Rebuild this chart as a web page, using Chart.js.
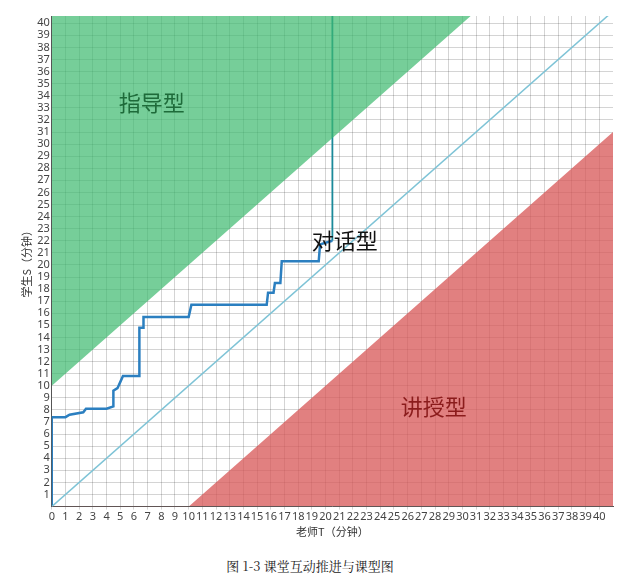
<!DOCTYPE html>
<html>
<head>
<meta charset="utf-8">
<script src="https://cdn.jsdelivr.net/npm/chart.js@4"></script>
<style>
  body { margin: 0; background: #fff; }
  #wrap { width: 620px; height: 538px; }
  #cap { text-align: center; font-family: "Noto Serif CJK SC", "Noto Sans CJK SC", serif; font-size: 13px; margin-top: 18px; color: #222; }
</style>
</head>
<body>
<div id="wrap"><canvas id="c"></canvas></div>
<div id="cap">图 1-3 课堂互动推进与课型图</div>
<script>
// Teacher time (T) vs student time (S), minutes
const pathT = [0, 0, 1, 1.3, 2.3, 2.5, 4, 4.5, 4.5, 4.8, 5, 5.2, 6.4, 6.4, 6.7, 6.7, 10, 10.2, 15.7, 15.8, 16.2, 16.3, 16.7, 16.8, 19.5, 19.6, 20.5];
const pathS = [0, 7.4, 7.4, 7.6, 7.8, 8.1, 8.1, 8.3, 9.6, 9.8, 10.3, 10.8, 10.8, 14.8, 14.8, 15.7, 15.7, 16.7, 16.7, 17.7, 17.7, 18.5, 18.5, 20.3, 20.3, 21.7, 22];
const tailT = [20.5, 20.5];
const tailS = [22, 41];
const diagonal = [[0, 0], [41, 41]];
const guideUpper = [[0, 10], [41, 51]];
const guideLower = [[0, -10], [41, 31]];
const xTicks = Array.from({ length: 41 }, (_, i) => i);
const yTicks = Array.from({ length: 40 }, (_, i) => i + 1);
const zoneLabels = [
  { text: '指导型', x: 4.9, y: 33.4, color: '#1e6b3a' },
  { text: '对话型', x: 19, y: 22, color: '#111' },
  { text: '讲授型', x: 25.5, y: 8.3, color: '#8b1c1c' }
];

const pts = (xs, ys) => xs.map((x, i) => ({ x, y: ys[i] }));
const pairs = a => a.map(p => ({ x: p[0], y: p[1] }));

const zoneText = {
  id: 'zoneText',
  afterDatasetsDraw(chart) {
    const { ctx, scales } = chart;
    ctx.save();
    ctx.font = '22px "Noto Sans CJK SC"';
    ctx.textAlign = 'left';
    ctx.textBaseline = 'middle';
    zoneLabels.forEach(l => {
      ctx.fillStyle = l.color;
      ctx.fillText(l.text, scales.x.getPixelForValue(l.x), scales.y.getPixelForValue(l.y));
    });
    ctx.restore();
  }
};

new Chart(document.getElementById('c'), {
  type: 'scatter',
  data: {
    datasets: [
      { data: pairs(guideUpper), showLine: true, pointRadius: 0, borderWidth: 0, fill: 'end', backgroundColor: 'rgba(60,185,110,0.7)' },
      { data: pairs(guideLower), showLine: true, pointRadius: 0, borderWidth: 0, fill: 'start', backgroundColor: 'rgba(215,85,85,0.75)' },
      { data: pairs(diagonal), showLine: true, pointRadius: 0, borderWidth: 1.5, borderColor: '#7ec3d6' },
      { data: pts(pathT, pathS), showLine: true, pointRadius: 0, borderWidth: 2.5, borderColor: '#2b7fc0' },
      { data: pts(tailT, tailS), showLine: true, pointRadius: 0, borderWidth: 1.8, borderColor: '#1b8a9a' }
    ]
  },
  options: {
    animation: false,
    maintainAspectRatio: false,
    layout: { padding: { top: 16, right: 7, left: 18 } },
    plugins: { legend: { display: false }, tooltip: { enabled: false } },
    scales: {
      x: {
        type: 'linear', min: 0, max: 41,
        afterBuildTicks: s => { s.ticks = xTicks.map(v => ({ value: v })); },
        ticks: { autoSkip: false, maxRotation: 0, padding: 1, color: '#444',
          font: { family: 'Noto Sans', size: 11 } },
        grid: { color: 'rgba(0,0,0,0.17)', tickLength: 3 },
        border: { color: '#555' },
        title: { display: true, text: '老师T（分钟）', font: { family: 'Noto Sans CJK SC', size: 11 }, color: '#333', padding: 0 }
      },
      y: {
        type: 'linear', min: 0, max: 40.6,
        afterBuildTicks: s => { s.ticks = [{ value: 0 }].concat(yTicks.map(v => ({ value: v }))); },
        ticks: { autoSkip: false, padding: 2, color: '#444',
          font: { family: 'Noto Sans', size: 11, lineHeight: 1 }, callback: v => v >= 1 ? v : '' },
        grid: { color: 'rgba(0,0,0,0.17)', tickLength: 0 },
        border: { color: '#555' },
        title: { display: true, text: '学生S（分钟）', font: { family: 'Noto Sans CJK SC', size: 11 }, color: '#333', padding: 2 }
      }
    }
  },
  plugins: [zoneText]
});
</script>
</body>
</html>
